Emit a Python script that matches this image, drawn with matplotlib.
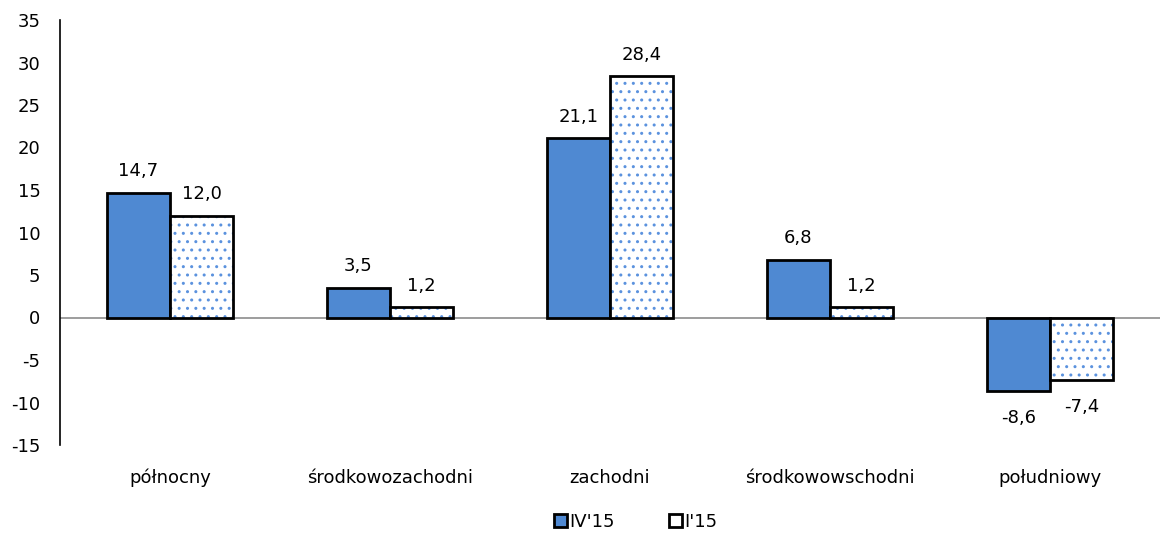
import matplotlib.pyplot as plt
import numpy as np

regions = ["północny", "środkowozachodni", "zachodni", "środkowowschodni", "południowy"]
q4_15 = [14.7, 3.5, 21.1, 6.8, -8.6]
q1_15 = [12.0, 1.2, 28.4, 1.2, -7.4]
series_names = ["IV'15", "I'15"]

plt.rcParams['font.family'] = ['DejaVu Sans']
plt.rcParams['font.size'] = 13
plt.rcParams['axes.unicode_minus'] = False
plt.rcParams['hatch.linewidth'] = 1.0

fig = plt.figure(figsize=(11.62, 5.35), dpi=100)
ax = fig.add_axes([60 / 1162, 1 - 445 / 535, 1100 / 1162, 425 / 535])

x = np.arange(len(regions))
w = 0.287
blue = '#4f89d2'
dot = '#5b92de'

# first series: solid blue bars
ax.bar(x - w / 2, q4_15, w, color=blue, edgecolor='black', linewidth=2, zorder=3)

# second series: white with dotted pattern, outline drawn on top
ax.bar(x + w / 2, q1_15, w, color='white', edgecolor=dot, hatch='..', linewidth=0, zorder=3)
ax.bar(x + w / 2, q1_15, w, fill=False, edgecolor='black', linewidth=2, zorder=4)

# value labels, comma as decimal separator
for xs, vals in ((x - w / 2, q4_15), (x + w / 2, q1_15)):
    for xi, v in zip(xs, vals):
        txt = f"{v:.1f}".replace('.', ',')
        if v >= 0:
            ax.annotate(txt, (xi, v), xytext=(0, 9), textcoords='offset points',
                        ha='center', va='bottom')
        else:
            ax.annotate(txt, (xi, v), xytext=(0, -13), textcoords='offset points',
                        ha='center', va='top')

ax.axhline(0, color='#8c8c8c', linewidth=1.2, zorder=2)

ax.set_xlim(-0.5, len(regions) - 0.5)
ax.set_ylim(-15, 35)
ax.set_yticks(range(-15, 36, 5))
ax.set_xticks(x)
ax.set_xticklabels(regions)
ax.tick_params(axis='both', length=0, labelsize=13)
ax.tick_params(axis='y', pad=14)
ax.tick_params(axis='x', pad=17)

for s in ('top', 'right', 'bottom'):
    ax.spines[s].set_visible(False)
ax.spines['left'].set_linewidth(1.2)

# legend below the plot
h1 = plt.Rectangle((0, 0), 1, 1, facecolor=blue, edgecolor='black', linewidth=2)
h2 = plt.Rectangle((0, 0), 1, 1, facecolor='white', edgecolor='black', linewidth=2)
fig.legend([h1, h2], series_names, loc='center', bbox_to_anchor=(636 / 1162, 1 - 522 / 535),
           ncol=2, frameon=False, fontsize=13, handlelength=0.7, handleheight=0.7,
           handletextpad=0.15, columnspacing=3.0)

fig.savefig('out.png', dpi=100)
